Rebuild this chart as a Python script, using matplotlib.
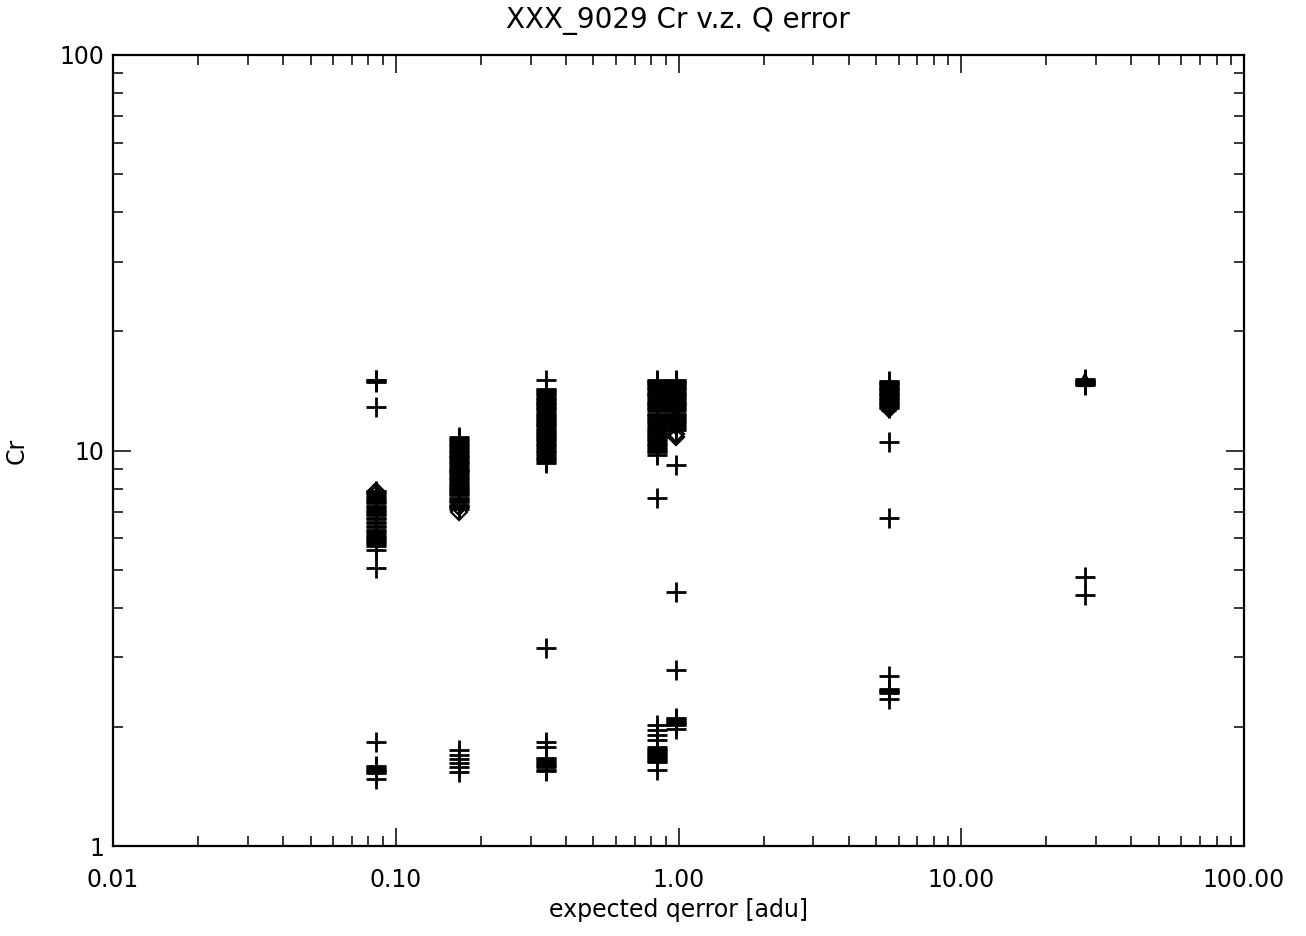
import matplotlib
matplotlib.use("Agg")
import matplotlib.pyplot as plt
from matplotlib.ticker import LogLocator, FixedFormatter, FixedLocator, NullFormatter

# x positions of the columns of points (expected qerror)
col_x = [0.085, 0.167, 0.34, 0.84, 0.98, 5.55, 27.4]

# Cr values drawn with "+" for each column
plus_y = [
    [15.1, 15.05, 15.0, 14.9, 12.9, 7.9, 7.85, 7.8, 7.7, 7.65, 7.55, 7.5, 7.4,
     7.35, 7.25, 7.2, 7.1, 7.05, 7.0, 6.9, 6.85, 6.75, 6.7, 6.6, 6.55, 6.45,
     6.4, 6.3, 6.25, 6.2, 6.1, 6.05, 6.0, 5.95, 5.9, 5.85, 5.8, 5.75, 5.6,
     5.05, 1.83, 1.59, 1.58, 1.57, 1.56, 1.55, 1.54, 1.53, 1.48],
    [10.8, 10.7, 10.6, 10.5, 10.4, 10.3, 10.2, 10.1, 10.0, 9.9, 9.8, 9.7,
     9.65, 9.55, 9.45, 9.35, 9.3, 9.2, 9.1, 9.0, 8.95, 8.85, 8.8, 8.7, 8.6,
     8.5, 8.45, 8.35, 8.3, 8.2, 8.15, 8.05, 8.0, 7.9, 7.85, 7.75, 7.7, 7.6,
     7.55, 7.45, 7.4, 7.3, 7.25, 7.2, 7.1, 1.75, 1.70, 1.66, 1.62, 1.58, 1.54],
    [15.1, 14.3, 14.2, 14.1, 14.0, 13.9, 13.75, 13.6, 13.5, 13.4, 13.3, 13.2,
     13.1, 13.0, 12.9, 12.8, 12.7, 12.6, 12.45, 12.3, 12.2, 12.1, 12.0, 11.9,
     11.8, 11.7, 11.6, 11.5, 11.4, 11.3, 11.2, 11.1, 11.0, 10.9, 10.8, 10.7,
     10.6, 10.5, 10.4, 10.3, 10.2, 10.1, 10.0, 9.9, 9.8, 9.7, 9.6, 9.5, 9.4,
     9.3, 3.17, 1.83, 1.78, 1.67, 1.66, 1.64, 1.62, 1.61, 1.59, 1.58, 1.56,
     1.55],
    [15.1, 15.0, 14.9, 14.8, 14.7, 14.6, 14.5, 14.4, 14.3, 14.15, 14.0, 13.9,
     13.8, 13.7, 13.6, 13.45, 13.3, 13.2, 13.1, 13.0, 12.9, 12.8, 12.7, 12.55,
     12.4, 12.3, 12.2, 12.1, 12.0, 11.9, 11.8, 11.65, 11.5, 11.4, 11.3, 11.2,
     11.1, 11.0, 10.9, 10.8, 10.7, 10.6, 10.5, 10.4, 10.3, 10.2, 10.1, 10.0,
     9.9, 9.75, 7.6, 2.02, 1.96, 1.91, 1.85, 1.78, 1.76, 1.75, 1.73, 1.72,
     1.70, 1.69, 1.67, 1.66, 1.64, 1.63, 1.56],
    [15.1, 15.0, 14.9, 14.8, 14.7, 14.6, 14.5, 14.4, 14.3, 14.15, 14.0, 13.9,
     13.8, 13.7, 13.6, 13.45, 13.3, 13.2, 13.1, 13.0, 12.9, 12.8, 12.7, 12.55,
     12.4, 12.3, 12.2, 12.1, 12.0, 11.9, 11.8, 11.65, 11.5, 11.4, 11.3, 9.2,
     4.38, 2.79, 2.11, 2.09, 2.08, 2.06, 2.05, 2.03, 2.02, 1.98],
    [15.0, 14.9, 14.8, 14.7, 14.6, 14.5, 14.4, 14.3, 14.2, 14.1, 14.0, 13.9,
     13.8, 13.7, 13.6, 13.5, 13.4, 13.3, 13.2, 13.1, 13.0, 12.9, 12.8,
     10.5, 6.75, 2.69, 2.50, 2.48, 2.47, 2.45, 2.44, 2.35],
    [15.2, 15.1, 15.0, 14.95, 14.9, 14.8, 14.75, 14.7, 14.6, 4.79, 4.31],
]

# points drawn with diamonds
diamond_x = [0.085, 0.085, 0.167, 0.167, 0.34, 0.34, 0.98, 0.98, 0.98, 5.55, 5.55]
diamond_y = [7.9, 7.75, 7.0, 7.2, 12.2, 12.0, 11.0, 10.8, 11.5, 12.7, 12.9]

# points drawn with triangles
tri_x = [0.98, 0.98, 5.55, 27.4]
tri_y = [12.4, 11.9, 13.0, 15.1]

x_ticks = [0.01, 0.1, 1, 10, 100]
x_tick_labels = ["0.01", "0.10", "1.00", "10.00", "100.00"]
y_ticks = [1, 10, 100]
y_tick_labels = ["1", "10", "100"]

plt.rcParams['font.family'] = ['DejaVu Sans']

fig = plt.figure(figsize=(13.06, 9.36), dpi=100)
ax = fig.add_axes([113 / 1306, 90 / 936, 1131 / 1306, 791 / 936])

px, py = [], []
for xv, ys in zip(col_x, plus_y):
    px += [xv] * len(ys)
    py += ys

ax.plot(px, py, ls="none", marker="+", ms=14.5, mew=2.0, color="black")
ax.plot(diamond_x, diamond_y, ls="none", marker="D", ms=8, mew=1.6,
        mfc="none", mec="black")
ax.plot(tri_x, tri_y, ls="none", marker="^", ms=9, mew=1.6,
        mfc="none", mec="black")

ax.set_xscale("log")
ax.set_yscale("log")
ax.set_xlim(0.01, 100)
ax.set_ylim(1, 100)

ax.xaxis.set_major_locator(FixedLocator(x_ticks))
ax.xaxis.set_major_formatter(FixedFormatter(x_tick_labels))
ax.xaxis.set_minor_locator(LogLocator(base=10, subs=range(2, 10)))
ax.xaxis.set_minor_formatter(NullFormatter())
ax.yaxis.set_major_locator(FixedLocator(y_ticks))
ax.yaxis.set_major_formatter(FixedFormatter(y_tick_labels))
ax.yaxis.set_minor_locator(LogLocator(base=10, subs=range(2, 10)))
ax.yaxis.set_minor_formatter(NullFormatter())

ax.tick_params(which="both", direction="in", top=True, right=True,
               color="black", width=1.1, labelsize=17)
ax.tick_params(which="major", length=13)
ax.tick_params(which="minor", length=7)
ax.tick_params(axis="x", which="major", pad=16)
ax.tick_params(axis="y", which="major", pad=6)

for sp in ax.spines.values():
    sp.set_linewidth(1.6)

ax.set_xlabel("expected qerror [adu]", fontsize=17, labelpad=4)
ax.set_ylabel("Cr", fontsize=17)
ax.yaxis.set_label_coords(-0.075, 0.5)

fig.text(0.519, 0.978, "XXX_9029 Cr v.z. Q error", ha="center", va="center",
         fontsize=20)

fig.savefig("out.png", dpi=100)
